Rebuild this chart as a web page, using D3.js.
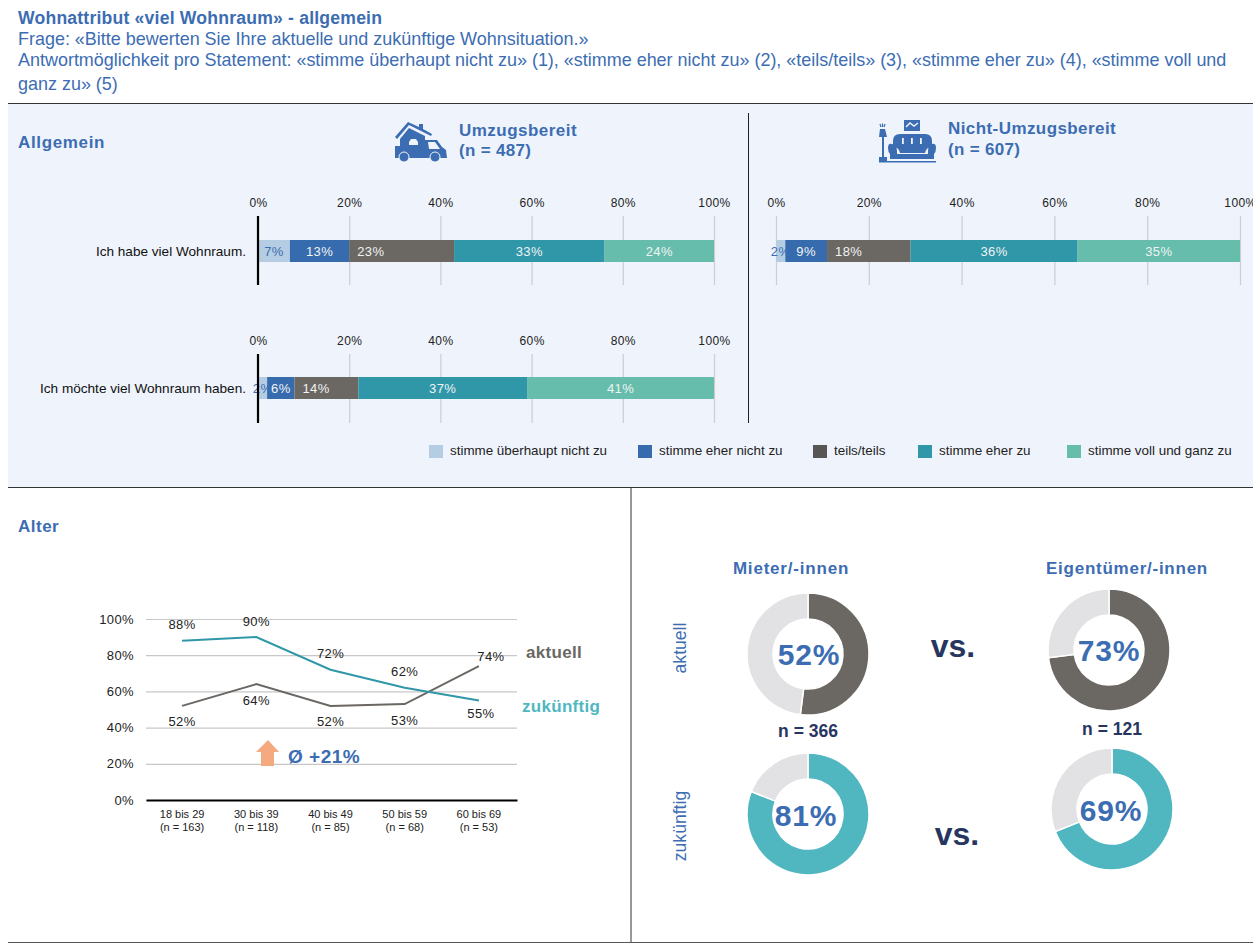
<!DOCTYPE html>
<html lang="de"><head><meta charset="utf-8">
<script src="https://cdnjs.cloudflare.com/ajax/libs/d3/7.8.5/d3.min.js"></script>
<style>
html,body{margin:0;padding:0;background:#fff}
svg{display:block}
text{font-family:"Liberation Sans",Arial,sans-serif}
</style></head><body><svg id="c" width="1253" height="945"></svg>
<script>
// ---- data ----
const titleLines = ["Frage: «Bitte bewerten Sie Ihre aktuelle und zukünftige Wohnsituation.»",
 "Antwortmöglichkeit pro Statement: «stimme überhaupt nicht zu» (1), «stimme eher nicht zu» (2), «teils/teils» (3), «stimme eher zu» (4), «stimme voll und",
 "ganz zu» (5)"];
const answerLabels = ["stimme überhaupt nicht zu","stimme eher nicht zu","teils/teils","stimme eher zu","stimme voll und ganz zu"];
const movingHave = [7,13,23,33,24];
const movingWant = [2,6,14,37,41];
const stayingHave = [2,9,18,36,35];
const axisTicks = [0,20,40,60,80,100];
const ageGroups = ["18 bis 29","30 bis 39","40 bis 49","50 bis 59","60 bis 69"];
const ageNs = [163,118,85,68,53];
const currentByAge = [52,64,52,53,74];
const futureByAge = [88,90,72,62,55];
const donutTenantNow = 52, donutTenantFuture = 81, donutOwnerNow = 73, donutOwnerFuture = 69;

// ---- palette ----
const segColors = ["#B5CDE2","#366BAD","#6B6763","#2F97A8","#66BDAB"];
const legendColors = ["#B5CDE2","#366BAD","#575655","#2F97A8","#66BDAB"];
const BLUE="#3C6DB2", NAVY="#27365F", GREY="#6B6763", TEAL="#50B7C1", LINE_TEAL="#2F97A8", REST="#E2E1E3";

const svg = d3.select("#c");
const T=(x,y,s,o={})=>{const t=svg.append("text").attr("x",x).attr("y",y).attr("dominant-baseline","central")
  .attr("font-size",o.size||13).attr("font-weight",o.bold?700:400).attr("fill",o.fill||"#222")
  .attr("text-anchor",o.anchor||"start").text(s);
  if(o.ls)t.attr("letter-spacing",o.ls); return t;};
const L=(x1,y1,x2,y2,c="#333",w=1)=>svg.append("line").attr("x1",x1).attr("y1",y1).attr("x2",x2).attr("y2",y2).attr("stroke",c).attr("stroke-width",w);

// panel + frame
svg.append("rect").attr("x",8).attr("y",104).attr("width",1245).attr("height",383).attr("fill","#EFF4FC");
L(8,103.5,1253,103.5); L(8,487.5,1253,487.5); L(8,942.5,1253,942.5,"#555");
L(631,488,631,942); L(748.5,113,748.5,423,"#222");

// header
T(18,18,"Wohnattribut «viel Wohnraum» - allgemein",{size:17.6,bold:true,fill:BLUE,ls:.2});
titleLines.forEach((s,i)=>T(18,[39,60,84][i],s,{size:17.97,fill:BLUE}));
T(18,142,"Allgemein",{size:17,bold:true,fill:BLUE,ls:.65});
T(459,130,"Umzugsbereit",{size:17,bold:true,fill:BLUE,ls:.47});
T(459,150,"(n = 487)",{size:17,bold:true,fill:BLUE,ls:.3});
T(948,128,"Nicht-Umzugsbereit",{size:17,bold:true,fill:BLUE,ls:.42});
T(948,149,"(n = 607)",{size:17,bold:true,fill:BLUE,ls:.3});

// icons
const truck=svg.append("g").attr("transform","translate(395,122)").attr("fill",BLUE);
truck.append("path").attr("d","M0,15 L13,0 L24,5 L24,2 L28,2 L28,7 L37,12 L36,14 L14,3 L2,17 Z");
truck.append("path").attr("d","M5,17 L14,6 L30,14 L30,18 L42,18 L47,25 L51,28 L52,36 L0,36 L0,24 L5,24 Z");
truck.append("path").attr("d","M14,20 L16,17 L21,17 L23,20 L23,23 L14,23 Z M33,20 L40,20 L45,27 L34,27 Z").attr("fill","#EFF4FC");
[9,40].forEach(x=>truck.append("circle").attr("cx",x).attr("cy",35).attr("r",5).attr("stroke","#EFF4FC").attr("stroke-width",1));
const sofa=svg.append("g").attr("transform","translate(879,119)").attr("fill",BLUE);
sofa.append("path").attr("d","M0,38 H8 V42 H0 Z M3,18 H5 V39 H3 Z M1,10 H6 L8,18 H0 Z M0,42 H57 V43.5 H0 Z");
sofa.append("path").attr("d","M1,5 L2,8 M3.5,4.5 V8 M6,5 L5,8").attr("stroke",BLUE).attr("stroke-width",1.2).attr("fill","none");
sofa.append("path").attr("d","M25,1 H41 V12 H25 Z");
sofa.append("path").attr("d","M27,8 L31,4 L35,7 L39,4").attr("stroke","#EFF4FC").attr("stroke-width",1.4).attr("fill","none");
sofa.append("path").attr("d","M14,22 Q14,15 21,15 H46 Q53,15 53,22 V28 Q47,28 46,34 H21 Q20,28 14,28 Z");
sofa.append("path").attr("d","M9,29 Q9,24 13,25 Q18,26 18,32 V35 H49 V32 Q49,26 53,25 Q57,24 57,29 Q57,33 55,35 V40 H11 V35 Q9,33 9,29 Z");
[23,32,41].forEach(x=>sofa.append("rect").attr("x",x).attr("y",19).attr("width",1.8).attr("height",6).attr("fill","#EFF4FC"));

// stacked bars
function stacked(values,x0,x1,top,bottom,barTop,barH,rowLabel,axisBlack){
  const x=d3.scaleLinear().domain([0,100]).range([x0,x1]);
  const ax=svg.append("g").attr("transform",`translate(0,${top})`)
    .call(d3.axisTop(x).tickValues(axisTicks).tickSize(-(bottom-top)).tickPadding(9).tickFormat(d=>d+"%"));
  ax.select(".domain").remove();
  ax.selectAll("line").attr("stroke","#CDCFD2").attr("stroke-width",1.3);
  ax.selectAll("text").attr("font-size",12).attr("fill","#222").attr("letter-spacing",.4)
    .attr("font-family",'"Liberation Sans",Arial,sans-serif');
  let acc=0;
  const segs=values.map((v,i)=>{const s={v,i,a:acc,b:acc+v};acc+=v;return s;});
  const g=svg.append("g");
  g.selectAll("rect").data(segs).join("rect").attr("x",d=>x(d.a)).attr("y",barTop)
    .attr("width",d=>x(d.b)-x(d.a)).attr("height",barH).attr("fill",d=>segColors[d.i]);
  if(axisBlack) L(x0,top,x0,bottom,"#000",2.2);
  g.selectAll("text").data(segs).join("text")
    .attr("x",d=>d.i===2?x(d.a)+8:(x(d.a)+x(d.b))/2).attr("y",barTop+barH/2)
    .attr("dominant-baseline","central").attr("text-anchor",d=>d.i===2?"start":"middle")
    .attr("font-size",13).attr("letter-spacing",.4).attr("fill",d=>d.i===0?BLUE:"#F1F3F4").text(d=>d.v+"%");
  if(rowLabel) T(x0-12,barTop+barH/2,rowLabel,{size:13.6,anchor:"end",fill:"#111"});
}
stacked(movingHave,258,714,216,285,240,22,"Ich habe viel Wohnraum.",true);
stacked(movingWant,258,714,354,423,377,22,"Ich möchte viel Wohnraum haben.",true);
stacked(stayingHave,776,1240,216,285,240,22,null,false);

// legend
const legendX=d3.scaleOrdinal().domain(answerLabels).range([429,638,813,918,1067]);
answerLabels.forEach((s,i)=>{
  svg.append("rect").attr("x",legendX(s)).attr("y",445).attr("width",14).attr("height",13).attr("fill",legendColors[i]);
  T(legendX(s)+21,450.5,s,{size:13.4,fill:"#222"});
});

// line chart
T(18,526,"Alter",{size:17,bold:true,fill:BLUE,ls:.5});
const lx=d3.scaleBand().domain(ageGroups).range([146,517]);
const ly=d3.scaleLinear().domain([0,100]).range([800,619]);
const cx=a=>lx(a)+lx.bandwidth()/2;
const ya=svg.append("g").attr("transform","translate(146,0)")
  .call(d3.axisLeft(ly).tickValues(axisTicks).tickSize(-371).tickPadding(12).tickFormat(d=>d+"%"));
ya.select(".domain").remove();
ya.selectAll("line").attr("stroke","#C8C8C8").attr("stroke-width",1.2);
ya.selectAll("text").attr("font-size",13).attr("fill","#222").attr("letter-spacing",.4)
  .attr("font-family",'"Liberation Sans",Arial,sans-serif');
const xa=svg.append("g").attr("transform","translate(0,800)")
  .call(d3.axisBottom(lx).tickSize(0).tickPadding(8).tickFormat(()=>""));
xa.select(".domain").attr("stroke","#000").attr("stroke-width",2);
ageGroups.forEach((a,i)=>{
  T(cx(a)-1,814,a,{size:11,anchor:"middle",fill:"#222"});
  T(cx(a)-1,827,`(n = ${ageNs[i]})`,{size:11,anchor:"middle",fill:"#222"});
});
const lineGen=d3.line().x((d,i)=>cx(ageGroups[i])-1).y(d=>ly(d));
[[currentByAge,GREY],[futureByAge,LINE_TEAL]].forEach(([v,c])=>
  svg.append("path").attr("d",lineGen(v)).attr("fill","none").attr("stroke",c).attr("stroke-width",2));
ageGroups.forEach((a,i)=>{
  const c=currentByAge[i],f=futureByAge[i],fAbove=f>c;
  T(cx(a)-1+(fAbove?0:2),ly(f)+(fAbove?-16:13),f+"%",{size:13,anchor:"middle",fill:"#222",ls:.4});
  T(cx(a)-1+(fAbove?0:12),ly(c)+(fAbove?16:-10),c+"%",{size:13,anchor:"middle",fill:"#222",ls:.4});
});
svg.append("path").attr("d","M268,740 L279,752 L274,752 L274,766 L261,766 L261,752 L256,752 Z").attr("fill","#F4A97F");
T(288,756,"Ø +21%",{size:19,bold:true,fill:BLUE,ls:.5});
T(526,652,"aktuell",{size:17,bold:true,fill:GREY,ls:.3});
T(522,706,"zukünftig",{size:17,bold:true,fill:TEAL,ls:.3});

// donuts
const arc=d3.arc().innerRadius(35).outerRadius(61);
const pie=d3.pie().sort(null).value(d=>d);
function donut(px,py,v,color,lx2,ly2){
  const g=svg.append("g").attr("transform",`translate(${px},${py})`);
  g.selectAll("path").data(pie([v,100-v])).join("path").attr("d",arc)
    .attr("fill",(d,i)=>i?REST:color).attr("stroke","#fff").attr("stroke-width",1.5);
  T(lx2,ly2,v+"%",{size:30,bold:true,anchor:"middle",fill:BLUE,ls:.8});
}
donut(808,654,donutTenantNow,GREY,809,654);
donut(808,814,donutTenantFuture,TEAL,806,815);
donut(1109,650,donutOwnerNow,GREY,1109,650);
donut(1112,809,donutOwnerFuture,TEAL,1111,810);
T(791,568,"Mieter/-innen",{size:17,bold:true,anchor:"middle",fill:BLUE,ls:.8});
T(1127,568,"Eigentümer/-innen",{size:17,bold:true,anchor:"middle",fill:BLUE,ls:.75});
T(808,731,"n = 366",{size:17.5,bold:true,anchor:"middle",fill:NAVY});
T(1112,729,"n = 121",{size:17.5,bold:true,anchor:"middle",fill:NAVY});
T(953,646,"vs.",{size:32,bold:true,anchor:"middle",fill:NAVY});
T(957,834,"vs.",{size:32,bold:true,anchor:"middle",fill:NAVY});
T(680,648,"aktuell",{size:17.6,anchor:"middle",fill:BLUE}).attr("transform","rotate(-90 680 648)");
T(680,826,"zukünftig",{size:17.6,anchor:"middle",fill:BLUE}).attr("transform","rotate(-90 680 826)");
</script></body></html>
